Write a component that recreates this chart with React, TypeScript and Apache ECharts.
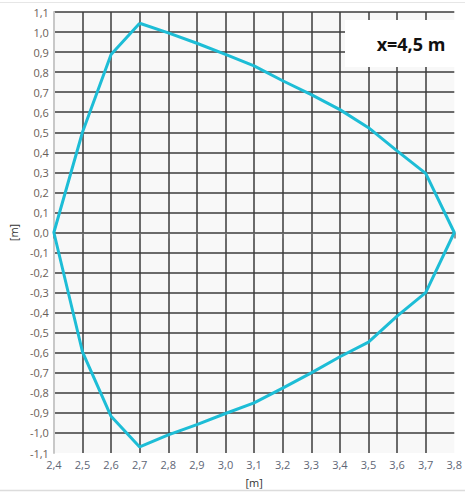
import React, { useEffect, useRef } from "react";
import * as echarts from "echarts";

// Polygon outline at x = 4,5 m (horizontal coord, vertical coord) in metres
const xs = [2.7, 2.8, 2.9, 3.0, 3.1, 3.2, 3.3, 3.4, 3.5, 3.6, 3.7, 3.8, 3.7, 3.6, 3.5, 3.4, 3.3, 3.2, 3.1, 3.0, 2.9, 2.8, 2.7, 2.6, 2.5, 2.4, 2.5, 2.6, 2.7];
const ys = [1.044, 0.996, 0.944, 0.889, 0.831, 0.757, 0.688, 0.613, 0.523, 0.407, 0.295, 0.0, -0.3, -0.417, -0.547, -0.62, -0.7, -0.776, -0.85, -0.903, -0.958, -1.01, -1.07, -0.917, -0.595, 0.0, 0.5, 0.888, 1.044];

const xAxisName = "[m]";
const yAxisName = "[m]";
const annotation = "x=4,5 m";

const fmt = (v: number) => (Math.round(v * 10) / 10).toFixed(1).replace(".", ",");

export default function App() {
  const ref = useRef<HTMLDivElement>(null);
  useEffect(() => {
    if (!ref.current) return;
    const chart = echarts.init(ref.current, null, { renderer: "svg" });
    const data = xs.map((x, i) => [x, ys[i]]);
    chart.setOption({
      animation: false,
      backgroundColor: "#ffffff",
      grid: {
        left: 45,
        right: 6,
        top: 12,
        bottom: 39,
        show: true,
        backgroundColor: "#f8f8f8",
        borderWidth: 0,
      },
      xAxis: {
        type: "value",
        min: 2.4,
        max: 3.8,
        interval: 0.1,
        name: xAxisName,
        nameLocation: "middle",
        nameGap: 24,
        nameTextStyle: { color: "#333", fontSize: 11, fontFamily: "Open Sans" },
        axisLine: { show: false },
        axisTick: { show: true, length: 6, lineStyle: { color: "#777", width: 1.5 } },
        axisLabel: {
          color: "#5e6676",
          fontSize: 11,
          fontFamily: "Open Sans",
          margin: 6,
          formatter: fmt,
        },
        splitLine: {
          show: true,
          showMinLine: false,
          showMaxLine: false,
          lineStyle: { color: "#3c3c3c", width: 1.5 },
        },
      },
      yAxis: {
        type: "value",
        min: -1.1,
        max: 1.1,
        interval: 0.1,
        name: yAxisName,
        nameLocation: "middle",
        nameGap: 31,
        nameTextStyle: { color: "#333", fontSize: 11, fontFamily: "Open Sans" },
        axisLine: { show: true, lineStyle: { color: "#c8c8c8", width: 2 } },
        axisTick: { show: false },
        axisLabel: {
          color: "#6a6058",
          fontSize: 11,
          fontFamily: "Open Sans",
          margin: 5,
          formatter: fmt,
        },
        splitLine: {
          show: true,
          showMinLine: false,
          lineStyle: { color: "#3c3c3c", width: 1.5 },
        },
      },
      series: [
        {
          type: "line",
          data,
          symbol: "none",
          smooth: false,
          lineStyle: { color: "#1dbdd6", width: 3 },
          z: 5,
        },
      ],
      graphic: [
        { type: "line", shape: { x1: 0, y1: 2.5, x2: 465, y2: 2.5 }, style: { stroke: "#e6e6e6", lineWidth: 1 }, z: 1 },
        { type: "line", shape: { x1: 0, y1: 490.5, x2: 465, y2: 490.5 }, style: { stroke: "#dcdcdc", lineWidth: 1.5 }, z: 1 },
        {
          type: "rect",
          shape: { x: 345, y: 20, width: 115, height: 47 },
          style: { fill: "#ffffff" },
          z: 10,
        },
        {
          type: "text",
          x: 411,
          y: 44,
          style: {
            text: annotation,
            fontSize: 18,
            fontWeight: "bold",
            fontFamily: "Open Sans",
            fill: "#111",
            align: "center",
            verticalAlign: "middle",
          },
          z: 11,
        },
      ],
    });
    return () => chart.dispose();
  }, []);
  return (
    <div
      ref={ref}
      style={{ position: "absolute", left: 0, top: 0, width: 465, height: 493 }}
    />
  );
}
